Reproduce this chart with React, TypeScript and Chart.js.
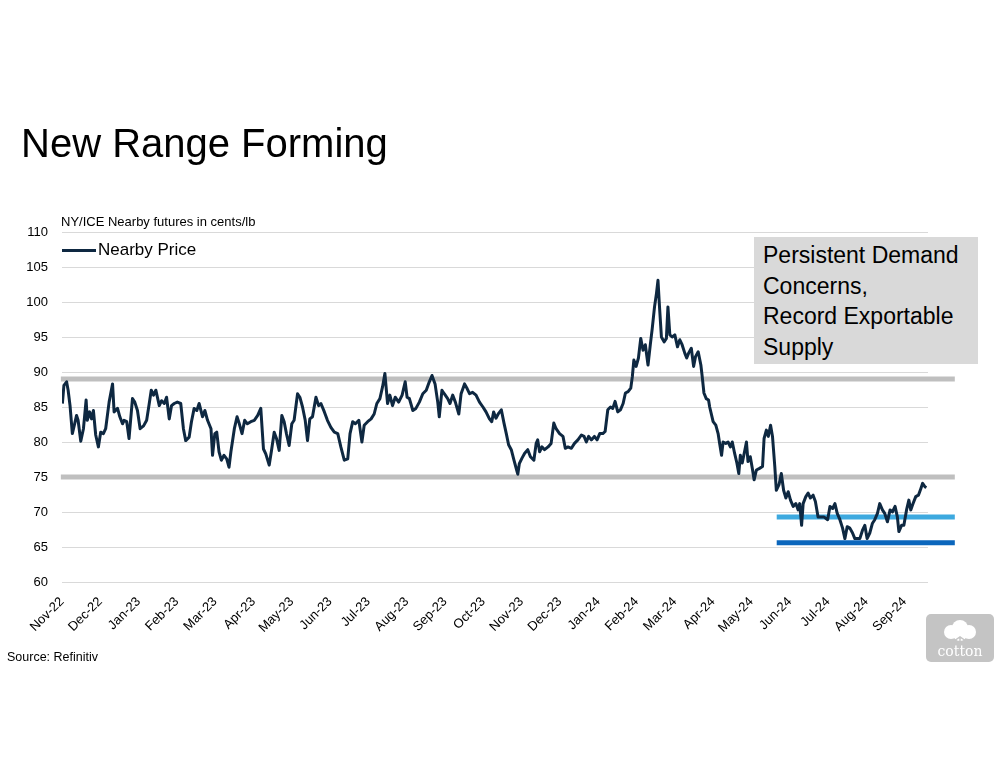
import { useEffect, useRef } from 'react';
import { Chart, registerables } from 'chart.js';

Chart.register(...registerables);

const monthLabels = [
  'Nov-22', 'Dec-22', 'Jan-23', 'Feb-23', 'Mar-23', 'Apr-23', 'May-23', 'Jun-23',
  'Jul-23', 'Aug-23', 'Sep-23', 'Oct-23', 'Nov-23', 'Dec-23', 'Jan-24', 'Feb-24',
  'Mar-24', 'Apr-24', 'May-24', 'Jun-24', 'Jul-24', 'Aug-24', 'Sep-24',
];

// time position in months since Nov-22
const monthPos = [
  0.01, 0.05, 0.12, 0.16, 0.21, 0.27, 0.33, 0.38, 0.42, 0.49, 0.56, 0.63, 0.66, 0.72, 0.77, 0.82, 0.88, 0.95,
  1.01, 1.08, 1.14, 1.23, 1.32, 1.36, 1.45, 1.51, 1.58, 1.62, 1.69, 1.75, 1.84, 1.90, 1.97,
  2.04, 2.13, 2.21, 2.27, 2.33, 2.39, 2.45, 2.54, 2.60, 2.67, 2.73, 2.80, 2.86, 2.93,
  3.01, 3.10, 3.17, 3.23, 3.32, 3.38, 3.45, 3.52, 3.58, 3.67, 3.73, 3.80, 3.89, 3.93, 3.99,
  4.04, 4.10, 4.16, 4.23, 4.30, 4.36, 4.41, 4.50, 4.57, 4.63, 4.70, 4.77, 4.84, 4.93,
  5.02, 5.11, 5.19, 5.26, 5.32, 5.41, 5.47, 5.54, 5.60, 5.67, 5.74, 5.80, 5.86, 5.93,
  6.00, 6.06, 6.15, 6.21, 6.28, 6.35, 6.41, 6.47, 6.54, 6.63, 6.70, 6.76, 6.85, 6.93,
  7.02, 7.11, 7.20, 7.28, 7.37, 7.46, 7.52, 7.59, 7.66, 7.75, 7.83, 7.89, 7.98,
  8.07, 8.15, 8.22, 8.30, 8.37, 8.43, 8.50, 8.56, 8.63, 8.70, 8.79, 8.88, 8.96,
  9.01, 9.07, 9.16, 9.24, 9.33, 9.42, 9.51, 9.59, 9.66, 9.74, 9.81, 9.85, 9.92, 9.98,
  10.07, 10.13, 10.20, 10.27, 10.36, 10.42, 10.51, 10.58, 10.64, 10.72, 10.81, 10.90, 10.99,
  11.07, 11.16, 11.22, 11.27, 11.33, 11.40, 11.47, 11.54, 11.60, 11.66, 11.73, 11.80, 11.87, 11.90, 11.94,
  12.01, 12.08, 12.16, 12.23, 12.32, 12.38, 12.42, 12.47, 12.53, 12.60, 12.69, 12.77, 12.84, 12.90, 12.99,
  13.08, 13.14, 13.21, 13.30, 13.38, 13.47, 13.56, 13.63, 13.69, 13.75, 13.82, 13.90, 13.97,
  14.04, 14.12, 14.18, 14.25, 14.32, 14.38, 14.44, 14.51, 14.58, 14.65, 14.71, 14.78, 14.85, 14.89, 14.93, 14.99,
  15.05, 15.11, 15.17, 15.23, 15.30, 15.36, 15.41, 15.47, 15.52, 15.56, 15.60, 15.65, 15.72, 15.78, 15.82, 15.87, 15.93,
  16.00, 16.07, 16.13, 16.19, 16.26, 16.31, 16.36, 16.43, 16.49, 16.54, 16.61, 16.68, 16.72, 16.76, 16.82, 16.88, 16.91,
  17.00, 17.07, 17.13, 17.17, 17.22, 17.26, 17.33, 17.39, 17.45, 17.50, 17.56, 17.62, 17.67, 17.71, 17.76, 17.83, 17.87, 17.91, 17.97,
  18.03, 18.07, 18.13, 18.20, 18.29, 18.33, 18.39, 18.44, 18.50, 18.55, 18.61, 18.65, 18.72, 18.78, 18.84, 18.90, 18.96,
  19.02, 19.09, 19.16, 19.22, 19.26, 19.31, 19.35, 19.42, 19.48, 19.54, 19.61, 19.67, 19.74, 19.80, 19.89, 19.99,
  20.05, 20.12, 20.18, 20.24, 20.31, 20.38, 20.44, 20.50, 20.57, 20.64, 20.70, 20.76, 20.83, 20.90, 20.96,
  21.02, 21.09, 21.16, 21.22, 21.29, 21.35, 21.42, 21.48, 21.55, 21.62, 21.68, 21.75, 21.81, 21.85, 21.92, 21.98,
  22.05, 22.11, 22.16, 22.22, 22.29, 22.36, 22.42, 22.47, 22.53, 22.57,
];

// NY/ICE nearby futures, cents/lb
const nearbyPrice = [
  85.5, 88.1, 88.6, 87.4, 85.2, 81.2, 82.6, 83.8, 83.1, 80.1, 81.9, 86.0, 83.1, 84.3, 83.3, 84.5, 81.0, 79.3,
  81.4, 81.2, 81.9, 85.7, 88.3, 84.3, 84.8, 83.6, 82.6, 83.1, 82.9, 80.5, 86.2, 85.7, 84.5,
  81.9, 82.3, 83.1, 85.2, 87.4, 86.7, 87.4, 85.2, 85.9, 85.5, 86.4, 83.3, 85.2, 85.5,
  85.7, 85.5, 81.9, 80.2, 80.7, 82.9, 84.8, 84.5, 85.5, 83.6, 84.5, 83.1, 81.9, 78.1, 81.2,
  81.4, 78.6, 77.4, 78.1, 77.6, 76.4, 78.6, 81.9, 83.6, 82.6, 81.2, 83.1, 82.6, 82.9,
  83.1, 83.8, 84.8, 79.0, 78.3, 76.7, 78.8, 81.4, 80.5, 78.8, 83.8, 82.9, 81.2, 79.5,
  82.6, 83.1, 86.9, 86.4, 85.0, 83.1, 80.2, 83.3, 83.6, 86.4, 85.2, 85.5, 84.3, 83.1,
  82.1, 81.4, 81.2, 79.3, 77.4, 77.6, 81.2, 82.9, 82.6, 83.1, 80.0, 82.4, 82.9,
  83.3, 84.0, 85.5, 86.2, 87.9, 89.8, 85.5, 86.7, 85.2, 86.4, 85.7, 86.7, 88.6,
  86.4, 86.2, 84.5, 84.8, 85.7, 86.9, 87.4, 88.6, 89.5, 88.3, 85.7, 83.6, 87.4, 86.9,
  86.2, 85.5, 86.7, 85.7, 84.0, 86.9, 88.3, 87.6, 86.9, 87.1, 86.7, 85.7, 85.0,
  84.3, 83.3, 82.9, 84.3, 83.4, 84.1, 84.6, 82.7, 81.2, 79.6, 78.9, 77.4, 76.0, 75.4, 76.9,
  77.7, 78.4, 78.9, 77.9, 77.4, 79.8, 80.3, 78.6, 79.3, 78.9, 79.3, 79.8, 82.7, 81.9, 81.2,
  80.8, 79.1, 79.3, 79.1, 79.8, 80.3, 81.0, 80.8, 80.0, 80.8, 80.3, 80.8, 80.3,
  81.2, 81.2, 81.5, 84.6, 85.0, 84.8, 85.8, 84.3, 84.6, 85.5, 87.0, 87.2, 87.7, 89.3, 91.7, 90.8,
  92.0, 94.8, 93.1, 93.9, 91.0, 93.9, 96.2, 99.3, 101.2, 103.1, 99.3, 95.0, 94.3, 94.8, 99.3, 95.3, 95.0,
  95.3, 93.6, 94.6, 93.9, 92.7, 92.0, 92.7, 93.4, 90.8, 92.2, 92.9, 91.0, 89.1, 87.0, 86.2, 86.0, 85.0,
  82.9, 82.4, 81.2, 79.8, 78.1, 80.0, 79.8, 80.0, 79.3, 80.0, 78.4, 77.0, 75.5, 78.1, 77.0, 78.9, 80.0, 77.2, 77.9,
  76.0, 74.6, 76.0, 76.2, 76.5, 80.5, 81.7, 80.8, 82.4, 80.8, 76.5, 73.1, 73.9, 75.5, 73.1, 72.0, 72.9,
  71.7, 70.8, 71.2, 70.3, 71.2, 68.1, 71.2, 72.2, 72.7, 72.0, 72.4, 71.5, 69.3, 69.3, 69.3, 68.9,
  70.8, 70.5, 71.2, 69.8, 68.9, 67.7, 66.2, 67.9, 67.7, 67.0, 66.2, 66.2, 66.2, 67.4, 68.1,
  66.2, 67.0, 68.4, 68.9, 69.8, 71.2, 70.3, 69.8, 68.6, 70.3, 70.0, 70.8, 69.3, 67.2, 68.1, 68.1,
  70.3, 71.7, 70.3, 71.2, 72.2, 72.4, 73.3, 74.1, 73.6, 73.5,
];

// horizontal range lines: level, start (months), end (months), colour
const rangeLevels = [89, 75];
const rangeStart = -0.03;
const rangeEnd = 23.31;
const rangeColor = '#BFBFBF';

const newRangeLevels = [69.3, 65.6];
const newRangeColors = ['#3DA9DF', '#0B66BC'];
const newRangeStart = 18.66;

const yTicks = { min: 60, max: 110, step: 5 };
const xMax = 22.61;

const refLinesPlugin = {
  id: 'refLines',
  beforeDatasetsDraw(chart: any) {
    const { ctx, scales } = chart;
    const x = scales.x;
    const y = scales.y;
    ctx.save();
    ctx.lineWidth = 5;
    ctx.lineCap = 'butt';
    rangeLevels.forEach((lvl) => {
      const py = y.getPixelForValue(lvl);
      ctx.strokeStyle = rangeColor;
      ctx.beginPath();
      ctx.moveTo(x.getPixelForValue(rangeStart), py);
      ctx.lineTo(x.getPixelForValue(rangeEnd), py);
      ctx.stroke();
    });
    newRangeLevels.forEach((lvl, i) => {
      const py = y.getPixelForValue(lvl);
      ctx.strokeStyle = newRangeColors[i];
      ctx.beginPath();
      ctx.moveTo(x.getPixelForValue(newRangeStart), py);
      ctx.lineTo(x.getPixelForValue(rangeEnd), py);
      ctx.stroke();
    });
    ctx.restore();
  },
};

export default function App() {
  const canvasRef = useRef<HTMLCanvasElement | null>(null);

  useEffect(() => {
    if (!canvasRef.current) return;
    const chart = new Chart(canvasRef.current, {
      type: 'line',
      data: {
        datasets: [
          {
            label: 'Nearby Price',
            data: monthPos.map((m, i) => ({ x: m, y: nearbyPrice[i] })),
            borderColor: '#0E2841',
            borderWidth: 3,
            pointRadius: 0,
            tension: 0,
            borderJoinStyle: 'round',
            fill: false,
          },
        ],
      },
      options: {
        animation: false,
        responsive: false,
        devicePixelRatio: 1,
        layout: { padding: { left: 0, top: 232, right: 72, bottom: 0 } },
        plugins: {
          legend: { display: false },
          tooltip: { enabled: false },
          title: { display: false },
        },
        scales: {
          x: {
            type: 'linear',
            min: 0,
            max: xMax,
            grid: { display: false, drawTicks: false },
            border: { display: false },
            afterFit: (scale: any) => {
              scale.height = 191;
            },
            ticks: {
              stepSize: 1,
              autoSkip: false,
              includeBounds: false,
              minRotation: 45,
              maxRotation: 45,
              padding: 12,
              color: '#000',
              font: { family: 'Liberation Sans, Arial, sans-serif', size: 13 },
              callback: (v: any) => (Number.isInteger(v) && monthLabels[v] ? monthLabels[v] : ''),
            },
          },
          y: {
            min: yTicks.min,
            max: yTicks.max,
            grid: { color: '#D9D9D9', lineWidth: 1, drawTicks: false },
            border: { display: false },
            afterFit: (scale: any) => {
              scale.width = 62;
            },
            ticks: {
              stepSize: yTicks.step,
              padding: 14,
              color: '#000',
              font: { family: 'Liberation Sans, Arial, sans-serif', size: 13 },
            },
          },
        },
      },
      plugins: [refLinesPlugin],
    });
    return () => chart.destroy();
  }, []);

  const sans = 'Liberation Sans, Arial, sans-serif';

  return (
    <div style={{ position: 'absolute', left: 0, top: 0, width: 1000, height: 773, background: '#fff', overflow: 'hidden' }}>
      <canvas ref={canvasRef} width={1000} height={773} style={{ position: 'absolute', left: 0, top: 0 }} />
      <div style={{ position: 'absolute', left: 21, top: 118, fontFamily: sans, fontSize: 40, color: '#000', whiteSpace: 'nowrap', lineHeight: '50px' }}>
        New Range Forming
      </div>
      <div style={{ position: 'absolute', left: 61, top: 213, fontFamily: sans, fontSize: 13, color: '#000', whiteSpace: 'nowrap', lineHeight: '18px' }}>
        NY/ICE Nearby futures in cents/lb
      </div>
      <div style={{ position: 'absolute', left: 62, top: 249, width: 34, height: 3, background: '#0E2841' }} />
      <div style={{ position: 'absolute', left: 98, top: 239, fontFamily: sans, fontSize: 17, color: '#000', whiteSpace: 'nowrap', lineHeight: '22px' }}>
        Nearby Price
      </div>
      <div
        style={{
          position: 'absolute', left: 754, top: 237, width: 224, height: 127, background: '#D9D9D9',
          fontFamily: sans, fontSize: 23, color: '#000', lineHeight: '30.5px', padding: '3px 0 0 9px', boxSizing: 'border-box', whiteSpace: 'nowrap',
        }}
      >
        Persistent Demand<br />Concerns,<br />Record Exportable<br />Supply
      </div>
      <div style={{ position: 'absolute', left: 7, top: 649, fontFamily: sans, fontSize: 12.5, color: '#000', whiteSpace: 'nowrap', lineHeight: '16px' }}>
        Source: Refinitiv
      </div>
      <svg style={{ position: 'absolute', left: 926, top: 614 }} width={70} height={50} viewBox="0 0 70 50">
        <rect x={0} y={0} width={68} height={48} rx={5} fill="#C4C4C4" />
        <circle cx={34} cy={14} r={8} fill="#fff" />
        <circle cx={25} cy={18} r={7} fill="#fff" />
        <circle cx={43} cy={18} r={7} fill="#fff" />
        <circle cx={34} cy={20} r={7} fill="#fff" />
        <path d="M34 29 L34 23 M28 27 L34 23 L40 27" stroke="#C4C4C4" strokeWidth={1.5} fill="none" />
        <text x={34} y={42} textAnchor="middle" fontFamily="DejaVu Serif, serif" fontSize={14} fill="#fff">cotton</text>
      </svg>
    </div>
  );
}
